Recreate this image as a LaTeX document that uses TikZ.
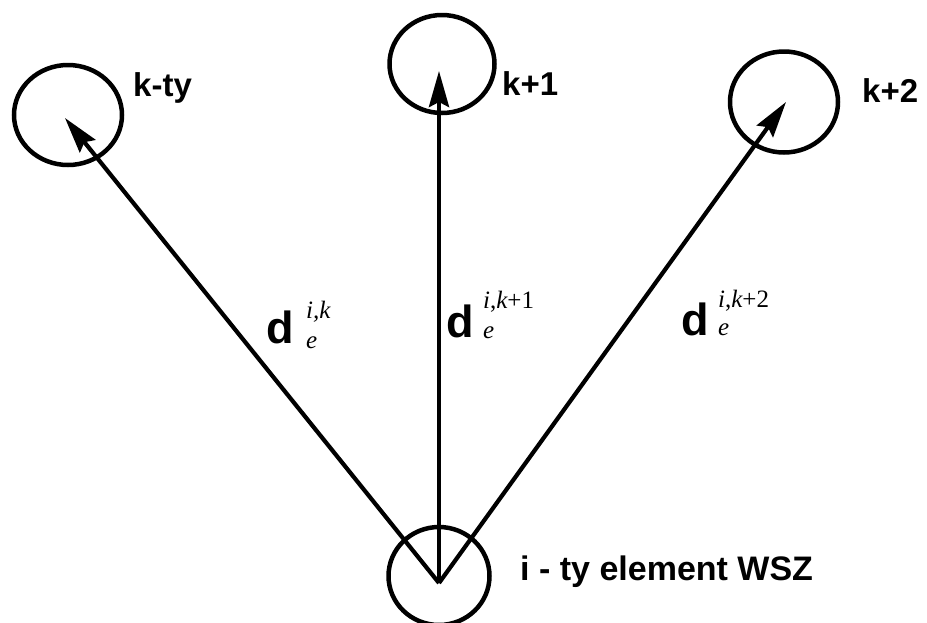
\documentclass[tikz,border=0pt]{standalone}
\usepackage{fontspec}
\setmainfont{Liberation Serif}
\setsansfont{Liberation Sans}
\usetikzlibrary{arrows.meta,shapes.geometric}
\begin{document}
\begin{tikzpicture}[x=1pt,y=-1pt,
 elem/.style={draw,ellipse,line width=4.5pt,inner sep=0pt},
 vec/.style={line width=4.2pt,-{Stealth[length=36pt,width=20pt,inset=5pt]}},
 lab/.style={font=\fontsize{33}{36}\selectfont\sffamily\bfseries,anchor=base west,inner sep=0pt},
 dlab/.style={font=\fontsize{45}{50}\selectfont\sffamily\bfseries,anchor=base west,inner sep=0pt},
 scr/.style={font=\fontsize{25}{28}\selectfont,anchor=base west,inner sep=0pt}]
\useasboundingbox (0,0) rectangle (927,622);
% elements
\node[elem,minimum width=108pt,minimum height=100pt] (k0) at (68,115) {};
\node[elem,minimum width=105pt,minimum height=98pt] (k1) at (442,64) {};
\node[elem,minimum width=108pt,minimum height=101pt] (k2) at (784,102) {};
\node[elem,minimum width=101pt,minimum height=98pt] (ie) at (439,576) {};
% arrow tips and origin
\coordinate (o) at (439,583);
\coordinate (t0) at (65,118);
\coordinate (t1) at (439,71);
\coordinate (t2) at (786,102);
\draw[vec] (o) -- (t0);
\draw[vec] (o) -- (t1);
\draw[vec] (o) -- (t2);
% element labels
\node[lab] (l0) at (133,96) {k-ty};
\node[lab] (l1) at (502,95) {k+1};
\node[lab] (l2) at (862,102) {k+2};
\node[lab,font=\fontsize{34}{38}\selectfont\sffamily\bfseries] (li) at (520,580) {i - ty element WSZ};
% vector labels
\node[dlab] (d0) at (266,343) {d};
\node[scr] (s0) at (306,318) {\itshape i,k};
\node[scr] (e0) at (306,348) {\itshape e};
\node[dlab] (d1) at (446,337) {d};
\node[scr] (s1) at (483,308) {{\itshape i},{\itshape k}+1};
\node[scr] (e1) at (483,338) {\itshape e};
\node[dlab] (d2) at (681,335) {d};
\node[scr] (s2) at (718,307) {{\itshape i},{\itshape k}+2};
\node[scr] (e2) at (718,335) {\itshape e};
\end{tikzpicture}
\end{document}
